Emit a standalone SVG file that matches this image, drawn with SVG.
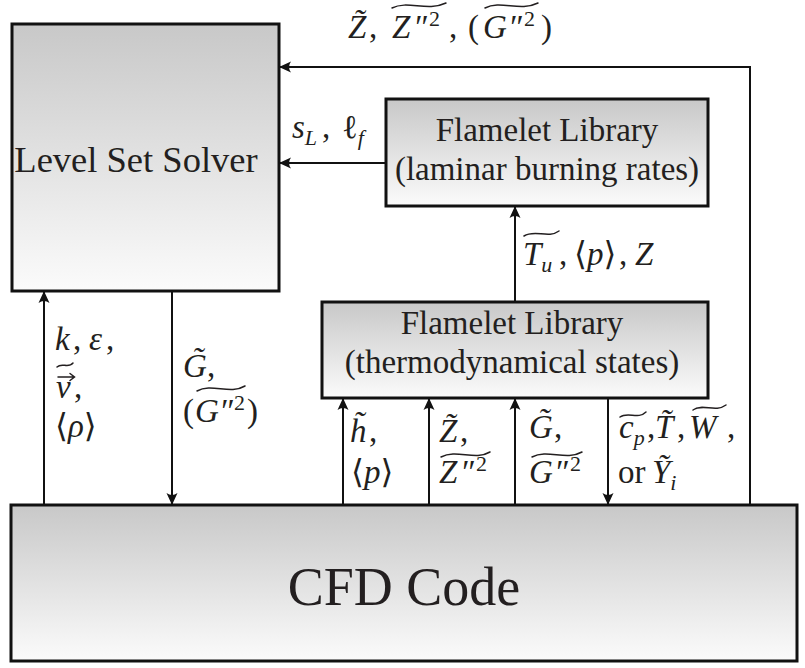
<svg xmlns="http://www.w3.org/2000/svg" width="805" height="668" viewBox="0 0 805 668">
<defs>
<linearGradient id="g" x1="0" y1="0" x2="0" y2="1"><stop offset="0" stop-color="#c8c8c8"/><stop offset="1" stop-color="#fbfbfb"/></linearGradient>
<marker id="a" viewBox="0 0 12 12" refX="12" refY="6" markerWidth="12" markerHeight="12" markerUnits="userSpaceOnUse" orient="auto"><path d="M12,6 L0,0.5 Q4,6 0,11.5 Z" fill="#111"/></marker>
<style>
.box{fill:url(#g);stroke:#111;stroke-width:3}
.ca{fill:none;stroke:#111;stroke-width:2;marker-end:url(#a)}
text{font-family:"Liberation Serif","DejaVu Serif",serif;fill:#231f20}
.m{font-size:33px}
.i{font-style:italic}
.s{font-size:22px}
.w{fill:none;stroke:#231f20;stroke-width:1.5;stroke-linecap:round}
</style>
</defs>
<g id="levelset"><rect class="box" x="12" y="24" width="267" height="267"/><text x="136" y="172" font-size="36.5" text-anchor="middle">Level Set Solver</text></g>
<g id="flamelet-laminar"><rect class="box" x="386" y="99" width="322" height="107"/><text x="547" y="141" font-size="33" text-anchor="middle">Flamelet Library</text><text x="547" y="180" font-size="33" text-anchor="middle">(laminar burning rates)</text></g>
<g id="flamelet-thermo"><rect class="box" x="322" y="302" width="386" height="96"/><text x="512" y="334" font-size="33" text-anchor="middle">Flamelet Library</text><text x="512" y="373" font-size="33" text-anchor="middle">(thermodynamical states)</text></g>
<g id="cfd"><rect class="box" x="11" y="505" width="786" height="156"/><text x="404" y="605" font-size="54" text-anchor="middle">CFD Code</text></g>
<g id="connectors">
<polyline class="ca" points="750,505 750,67 279,67"/>
<line class="ca" x1="386" y1="163" x2="279" y2="163"/>
<line class="ca" x1="515" y1="302" x2="515" y2="206"/>
<line class="ca" x1="44" y1="505" x2="44" y2="291"/>
<line class="ca" x1="172" y1="291" x2="172" y2="505"/>
<line class="ca" x1="343" y1="505" x2="343" y2="398"/>
<line class="ca" x1="429" y1="505" x2="429" y2="398"/>
<line class="ca" x1="515" y1="505" x2="515" y2="398"/>
<line class="ca" x1="608" y1="398" x2="608" y2="505"/>
</g>
<g id="labels">
<text class="m" y="38"><tspan x="348" class="i">Z&#771;</tspan><tspan x="369">,</tspan><tspan x="392" class="i">Z</tspan><tspan x="413" class="i">″</tspan><tspan x="429" class="s" dy="-12">2</tspan><tspan x="449" dy="12">,</tspan><tspan x="468">(</tspan><tspan x="483" class="i">G</tspan><tspan x="508" class="i">″</tspan><tspan x="524" class="s" dy="-12">2</tspan><tspan x="541" dy="12">)</tspan></text>
<path class="w" d="M392,8 C408,0 427,12 446,3"/>
<path class="w" d="M485,8 C501,0 520,12 538,3"/>

<text class="m" y="138"><tspan x="292" class="i">s</tspan><tspan class="s i" dy="7">L</tspan><tspan x="322" dy="-7">,</tspan><tspan x="342">ℓ</tspan><tspan class="s i" dy="7">f</tspan></text>

<text class="m" y="265"><tspan x="523" class="i">T</tspan><tspan class="s i" dy="7">u</tspan><tspan x="559" dy="-7">,</tspan><tspan x="574">⟨</tspan><tspan class="i">p</tspan><tspan>⟩</tspan><tspan x="619">,</tspan><tspan x="635" class="i">Z</tspan></text>
<path class="w" d="M524,236 C535,229 548,239 559,231"/>

<text class="m" y="350"><tspan x="55" class="i">k</tspan><tspan x="73">,</tspan><tspan x="89" class="i">ε</tspan><tspan x="106">,</tspan></text>
<text class="m" y="398"><tspan x="56" class="i">v</tspan><tspan x="74">,</tspan></text>
<path class="w" d="M58,377 L74,377 M70,373.5 L74.5,377 L70,380.5"/>
<path class="w" d="M57,367 C62,362 68,369 73,363"/>
<text class="m" y="437" x="55">⟨<tspan class="i">ρ</tspan>⟩</text>

<text class="m" y="377"><tspan x="183" class="i">G&#771;</tspan><tspan x="207">,</tspan></text>
<text class="m" y="422"><tspan x="183">(</tspan><tspan x="195" class="i">G</tspan><tspan x="219" class="i">″</tspan><tspan x="234" class="s" dy="-12">2</tspan><tspan x="247" dy="12">)</tspan></text>
<path class="w" d="M197,391 C212,383 230,395 245,386"/>

<text class="m" y="442"><tspan x="350" class="i">h&#771;</tspan><tspan x="369">,</tspan></text>
<text class="m" y="483" x="351">⟨<tspan class="i">p</tspan>⟩</text>

<text class="m" y="442"><tspan x="439" class="i">Z&#771;</tspan><tspan x="460">,</tspan></text>
<text class="m" y="483"><tspan x="439" class="i">Z</tspan><tspan x="460" class="i">″</tspan><tspan x="476" class="s" dy="-12">2</tspan></text>
<path class="w" d="M441,457 C457,449 475,461 490,452"/>

<text class="m" y="438"><tspan x="529" class="i">G&#771;</tspan><tspan x="554">,</tspan></text>
<text class="m" y="483"><tspan x="529" class="i">G</tspan><tspan x="554" class="i">″</tspan><tspan x="570" class="s" dy="-12">2</tspan></text>
<path class="w" d="M532,457 C548,449 566,461 582,452"/>

<text class="m" y="438"><tspan x="619" class="i">c</tspan><tspan class="s i" dy="7">p</tspan><tspan x="647" dy="-7">,</tspan><tspan x="655" class="i">T&#771;</tspan><tspan x="677">,</tspan><tspan x="689" class="i">W</tspan><tspan x="727">,</tspan></text>
<path class="w" d="M620,417 C628,411 638,420 646,412"/>
<path class="w" d="M693,410 C703,403 715,413 726,405"/>
<text class="m" y="483"><tspan x="618">or</tspan><tspan x="652" class="i">Y&#771;</tspan><tspan class="s i" dy="7">i</tspan></text>
</g>
</svg>
